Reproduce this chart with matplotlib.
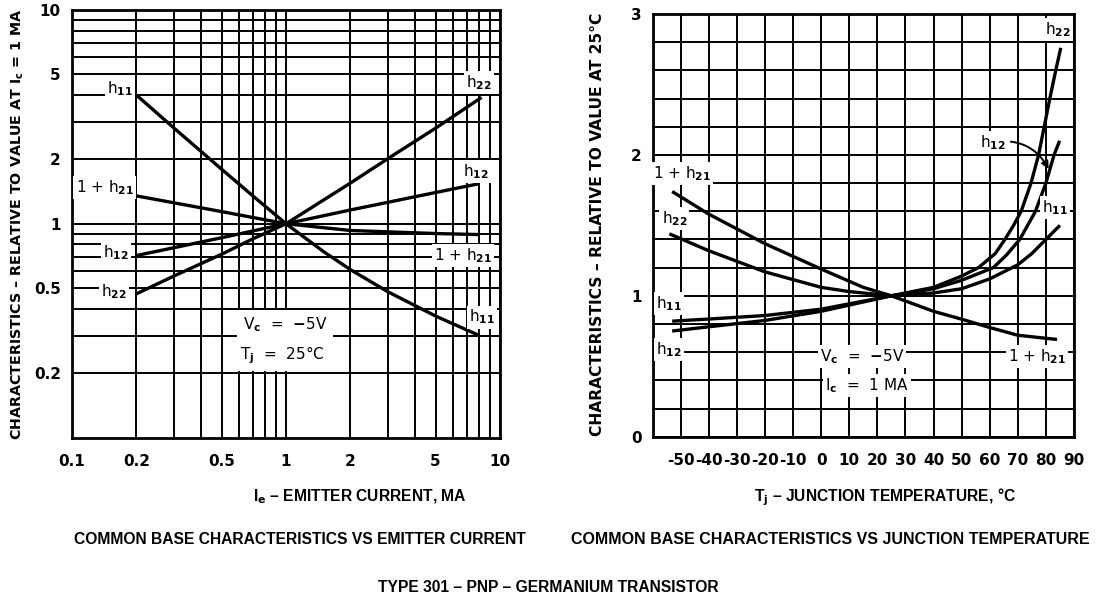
import matplotlib
matplotlib.use("Agg")
import matplotlib.pyplot as plt
from matplotlib import font_manager
from matplotlib.ticker import LogLocator, NullFormatter, MultipleLocator

plt.rcParams["mathtext.fontset"] = "custom"
plt.rcParams["mathtext.rm"] = "DejaVu Sans:bold"
plt.rcParams["mathtext.it"] = "DejaVu Sans:bold"
plt.rcParams["mathtext.bf"] = "DejaVu Sans:bold"
plt.rcParams["mathtext.default"] = "rm"

# ---- Common-base h-parameters vs emitter current (Vc = -5 V, Tj = 25 C) ----
ie_h11 = [0.2, 0.3, 0.5, 0.7, 1.0, 1.5, 2.0, 3.0, 5.0, 8.0]
h11_ie = [4.0, 2.8, 1.8, 1.35, 1.0, 0.74, 0.61, 0.48, 0.37, 0.30]
ie_h22 = [0.2, 0.3, 0.5, 0.7, 1.0, 2.0, 3.0, 5.0, 8.2]
h22_ie = [0.47, 0.57, 0.72, 0.85, 1.0, 1.55, 2.02, 2.8, 3.9]
ie_h12 = [0.2, 0.5, 1.0, 2.0, 5.0, 8.0]
h12_ie = [0.71, 0.86, 1.0, 1.16, 1.40, 1.54]
ie_h21 = [0.2, 0.5, 1.0, 2.0, 5.0, 8.0]
h21_ie = [1.35, 1.14, 1.0, 0.93, 0.90, 0.89]

ie_ticks = [0.1, 0.2, 0.5, 1, 2, 5, 10]
ie_ticklabels = ["0.1", "0.2", "0.5", "1", "2", "5", "10"]
rel_ticks = [0.2, 0.5, 1, 2, 5, 10]
rel_ticklabels = ["0.2", "0.5", "1", "2", "5", "10"]

# ---- Common-base h-parameters vs junction temperature (Vc = -5 V, Ic = 1 MA) ----
tj_h21 = [-53, -40, -20, 0, 15, 25, 40, 50, 60, 70, 84]
h21_tj = [1.74, 1.58, 1.37, 1.19, 1.06, 1.0, 0.89, 0.834, 0.775, 0.72, 0.69]
tj_h22 = [-54, -40, -20, 0, 10, 25, 40, 50, 56, 62, 65.4, 68.5, 71.2, 74.7, 77.4, 79.4, 81.4, 83.5, 85.3]
h22_tj = [1.44, 1.32, 1.17, 1.06, 1.03, 1.0, 1.06, 1.14, 1.2, 1.3, 1.4, 1.5, 1.6, 1.8, 2.0, 2.2, 2.4, 2.6, 2.76]
tj_h12 = [-53, -40, -20, 0, 25, 40, 50, 61.3, 66, 70.7, 76.3, 80, 82.9, 84.9]
h12_tj = [0.75, 0.78, 0.825, 0.89, 1.0, 1.05, 1.11, 1.2, 1.29, 1.4, 1.6, 1.8, 2.0, 2.1]
tj_h11 = [-53, -40, -20, 0, 25, 40, 50, 60, 70, 75, 80, 85]
h11_tj = [0.82, 0.835, 0.86, 0.905, 1.0, 1.02, 1.05, 1.12, 1.22, 1.3, 1.4, 1.5]

tj_ticks = [-50, -40, -30, -20, -10, 0, 10, 20, 30, 40, 50, 60, 70, 80, 90]
tj_ticklabels = ["-50", "-40", "-30", "-20", "-10", "0", "10", "20", "30", "40",
                 "50", "60", "70", "80", "90"]
lin_ticks = [0, 1, 2, 3]

W, H = 1097, 599
fig = plt.figure(figsize=(W / 100, H / 100), dpi=100)
fig.patch.set_facecolor("white")


def pick_family(candidates):
    for name in candidates:
        try:
            font_manager.findfont(font_manager.FontProperties(family=name),
                                  fallback_to_default=False)
            return [name, "DejaVu Sans"]
        except ValueError:
            continue
    return ["DejaVu Sans"]


NARROW = pick_family(["Liberation Sans Narrow", "Liberation Sans", "Roboto"])
GRID_LW = 1.4
CURVE_LW = 2.4
box = dict(facecolor="white", edgecolor="none", pad=1.5)


def fx(px):
    return px / W


def fy(py):
    return 1 - py / H


def style_axes(ax):
    for s in ax.spines.values():
        s.set_linewidth(2.0)
        s.set_color("black")
    ax.tick_params(which="both", length=0, labelsize=11, pad=8)
    for lab in ax.get_xticklabels() + ax.get_yticklabels():
        lab.set_fontweight("bold")
    ax.grid(which="both", color="black", linewidth=GRID_LW)
    ax.set_axisbelow(True)


# ---------------- left panel: log-log ----------------
ax1 = fig.add_axes([fx(72), fy(437.5), fx(500) - fx(72), fy(10) - fy(437.5)])
ax1.set_xscale("log")
ax1.set_yscale("log")
ax1.set_xlim(0.1, 10)
ax1.set_ylim(0.1, 10)
ax1.xaxis.set_minor_locator(LogLocator(base=10, subs=range(2, 10)))
ax1.yaxis.set_minor_locator(LogLocator(base=10, subs=range(2, 10)))
ax1.xaxis.set_minor_formatter(NullFormatter())
ax1.yaxis.set_minor_formatter(NullFormatter())
ax1.set_xticks(ie_ticks, ie_ticklabels)
ax1.set_yticks(rel_ticks, rel_ticklabels)
style_axes(ax1)
ax1.tick_params(axis="x", pad=12)

for xs, ys in [(ie_h11, h11_ie), (ie_h22, h22_ie), (ie_h12, h12_ie), (ie_h21, h21_ie)]:
    ax1.plot(xs, ys, color="black", lw=CURVE_LW, solid_capstyle="butt", zorder=3)

lab_kw = dict(fontsize=11, ha="center", va="center", bbox=box, zorder=4)
ax1.text(0.168, 4.3, r"h$_{11}$", **lab_kw)
ax1.text(7.98, 4.59, r"h$_{22}$", **lab_kw)
ax1.text(7.71, 1.75, r"h$_{12}$", **lab_kw)
ax1.text(0.142, 1.48, r"1 + h$_{21}$", **lab_kw)
ax1.text(0.16, 0.73, r"h$_{12}$", **lab_kw)
ax1.text(0.157, 0.48, r"h$_{22}$", **lab_kw)
ax1.text(6.71, 0.71, r"1 + h$_{21}$", **lab_kw)
ax1.text(8.25, 0.366, r"h$_{11}$", **lab_kw)
ax1.text(0.99, 0.336, r"V$_{c}$  =  $-$5V", fontsize=11, ha="center", va="center",
         bbox=dict(facecolor="white", edgecolor="none", pad=4), zorder=4)
ax1.text(0.96, 0.243, r"T$_{j}$  =  25°C", fontsize=11, ha="center", va="center",
         bbox=dict(facecolor="white", edgecolor="none", pad=4), zorder=4)

# ---------------- right panel: linear ----------------
ax2 = fig.add_axes([fx(652.5), fy(436.7), fx(1074) - fx(652.5), fy(14) - fy(436.7)])
ax2.set_xlim(-60, 90)
ax2.set_ylim(0, 3)
ax2.set_xticks(tj_ticks, tj_ticklabels)
ax2.set_yticks(lin_ticks, [str(v) for v in lin_ticks])
ax2.xaxis.set_minor_locator(MultipleLocator(10))
ax2.yaxis.set_minor_locator(MultipleLocator(0.2))
style_axes(ax2)
ax2.tick_params(axis="x", pad=12)

for xs, ys in [(tj_h21, h21_tj), (tj_h22, h22_tj), (tj_h12, h12_tj), (tj_h11, h11_tj)]:
    ax2.plot(xs, ys, color="black", lw=CURVE_LW, solid_capstyle="butt", zorder=3)

ax2.text(84.3, 2.89, r"h$_{22}$", **lab_kw)
ax2.text(83.2, 1.625, r"h$_{11}$", **lab_kw)
ax2.text(-49.4, 1.87, r"1 + h$_{21}$", **lab_kw)
ax2.text(-52.2, 1.55, r"h$_{22}$", **lab_kw)
ax2.text(-54.0, 0.945, r"h$_{11}$", **lab_kw)
ax2.text(-54.0, 0.62, r"h$_{12}$", **lab_kw)
ax2.text(76.8, 0.57, r"1 + h$_{21}$", **lab_kw)
ax2.text(14.6, 0.57, r"V$_{c}$  =  $-$5V", **lab_kw)
ax2.text(16.4, 0.365, r"I$_{c}$  =  1 MA", **lab_kw)
ax2.annotate(r"h$_{12}$", xy=(81.0, 1.90), xytext=(61.2, 2.09), fontsize=11,
             ha="center", va="center", bbox=box, zorder=4,
             arrowprops=dict(arrowstyle="-|>", color="black", lw=1.4,
                             connectionstyle="arc3,rad=-0.35", shrinkA=2, shrinkB=0))

# ---------------- axis titles and captions ----------------
ylab1 = fig.text(fx(18), fy(224), r"CHARACTERISTICS – RELATIVE TO VALUE AT I$_{c}$ = 1 MA",
                 rotation=90, ha="center", va="center", fontsize=10, fontweight="bold")
ylab2 = fig.text(fx(598), fy(224), "CHARACTERISTICS – RELATIVE TO VALUE AT 25°C",
                 rotation=90, ha="center", va="center", fontsize=10, fontweight="bold")

cap_kw = dict(ha="center", va="center", fontsize=12, fontweight="bold", family=NARROW)
xlab1 = fig.text(fx(360), fy(497), r"I$_{e}$ – EMITTER CURRENT, MA", **cap_kw)
xlab2 = fig.text(fx(885), fy(497), r"T$_{j}$ – JUNCTION TEMPERATURE, °C", **cap_kw)
cap1 = fig.text(fx(300), fy(540), "COMMON BASE CHARACTERISTICS VS EMITTER CURRENT", **cap_kw)
cap2 = fig.text(fx(830), fy(540), "COMMON BASE CHARACTERISTICS VS JUNCTION TEMPERATURE", **cap_kw)
cap3 = fig.text(fx(548), fy(587), "TYPE 301 – PNP – GERMANIUM TRANSISTOR", **cap_kw)

# scale titles so their printed length spans the intended extent
fig.canvas.draw()
renderer = fig.canvas.get_renderer()


def fit(t, span, vertical=False):
    bb = t.get_window_extent(renderer)
    length = bb.height if vertical else bb.width
    t.set_fontsize(t.get_fontsize() * span / length)


fit(ylab1, 430, True)
fit(ylab2, 425, True)
fit(cap1, 450)
fit(cap2, 515)
for t in (xlab1, xlab2, cap3):
    t.set_fontsize(cap1.get_fontsize())

fig.savefig("out.png", dpi=100, facecolor="white")
